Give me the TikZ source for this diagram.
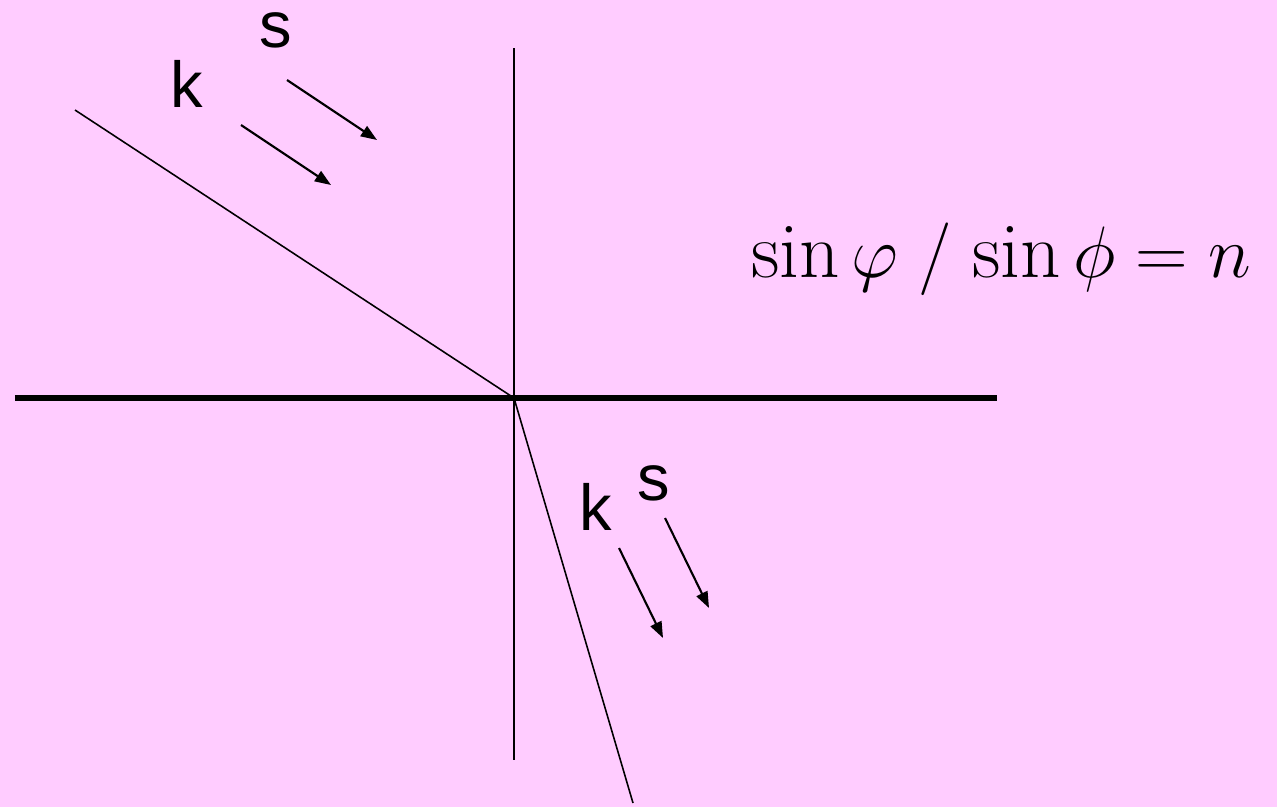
\documentclass[tikz,border=0pt]{standalone}
\usepackage{fontspec}
\setsansfont{Liberation Sans}
\usetikzlibrary{arrows.meta}
\definecolor{bgpink}{RGB}{255,204,255}
\tikzset{
    ray/.style={line width=0.45pt},
    dirarrow/.style={line width=0.6pt, -{Triangle[length=4.6pt,width=3.4pt]}},
    lbl/.style={anchor=base, inner sep=0pt, font=\sffamily\fontsize{18.5}{22}\selectfont}
}
\begin{document}
\begin{tikzpicture}
    \fill[bgpink] (0,0) rectangle (12.77,8.07);
    \useasboundingbox (0,0) rectangle (12.77,8.07);

    \coordinate (O) at (5.14,4.09);
    \coordinate (hl) at (0.15,4.09);
    \coordinate (hr) at (9.97,4.09);
    \coordinate (vt) at (5.14,7.59);
    \coordinate (vb) at (5.14,0.47);
    \coordinate (inc) at (0.75,6.97);
    \coordinate (ref) at (6.33,0.04);

    \draw[line width=1.7pt] (hl) -- (hr);
    \draw[ray] (vt) -- (vb);
    \draw[ray] (inc) -- (O) -- (ref);

    % direction arrows: name/start/end
    \foreach \n/\a/\b in {%
        k1/{2.41,6.82}/{3.31,6.22},
        s1/{2.87,7.27}/{3.77,6.67},
        k2/{6.19,2.59}/{6.63,1.69},
        s2/{6.65,2.89}/{7.09,1.99}%
        }{
        \coordinate (\n a) at (\a);
        \coordinate (\n b) at (\b);
        \draw[dirarrow] (\n a) -- (\n b);
    }

    \node[lbl] (ls1) at (2.76,7.60) {s};
    \node[lbl] (lk1) at (1.87,7.00) {k};
    \node[lbl] (lk2) at (5.96,2.77) {k};
    \node[lbl] (ls2) at (6.54,3.07) {s};

    \node[anchor=base, inner sep=0pt, font=\fontsize{22.5}{27}\selectfont] (law) at (10.01,5.30)
        {$\sin\varphi\mkern5mu/\mkern2mu\sin\phi = n$};
\end{tikzpicture}
\end{document}
